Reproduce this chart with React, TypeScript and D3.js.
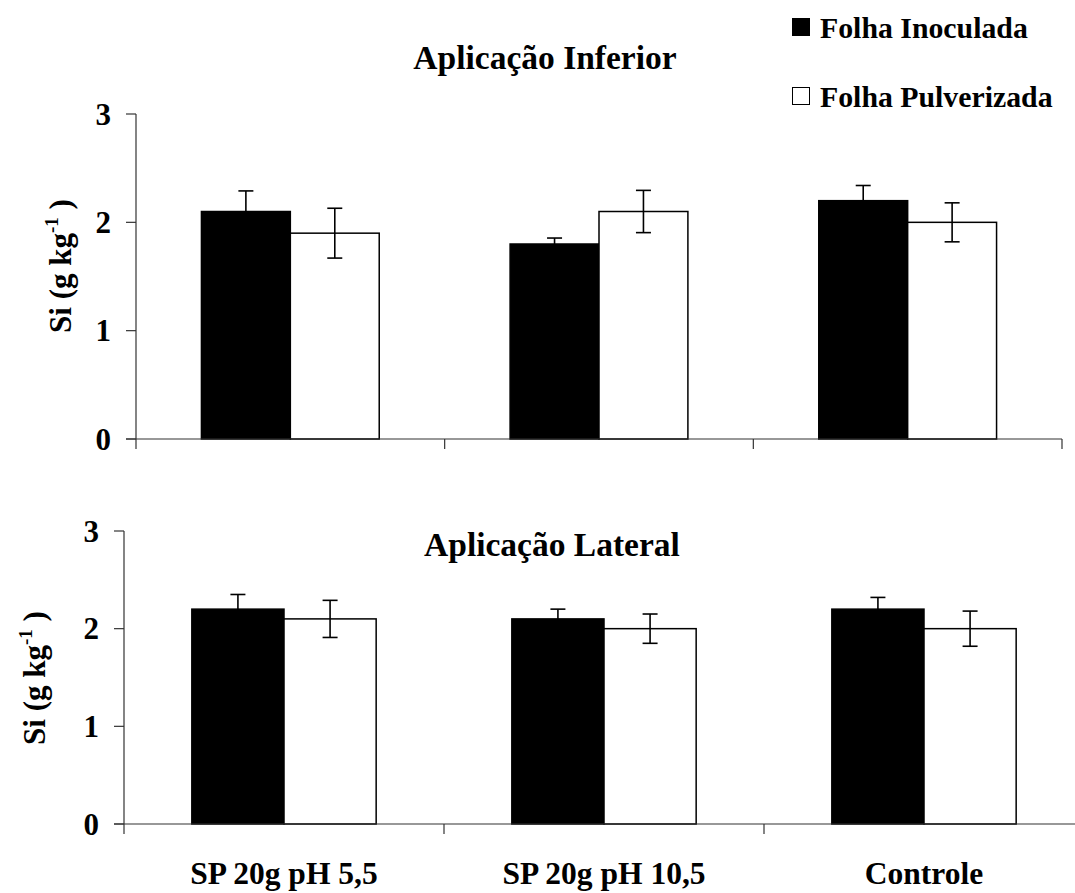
import React from "react";
import * as d3 from "d3";

const categories = ["SP 20g pH 5,5", "SP 20g pH 10,5", "Controle"];
const seriesNames = ["Folha Inoculada", "Folha Pulverizada"];
const yTicks = [0, 1, 2, 3];

// Aplicação Inferior
const inferiorInoculada = [2.1, 1.8, 2.2];
const inferiorInoculadaErr = [0.19, 0.055, 0.14];
const inferiorPulverizada = [1.9, 2.1, 2.0];
const inferiorPulverizadaErr = [0.23, 0.195, 0.18];

// Aplicação Lateral
const lateralInoculada = [2.2, 2.1, 2.2];
const lateralInoculadaErr = [0.15, 0.1, 0.12];
const lateralPulverizada = [2.1, 2.0, 2.0];
const lateralPulverizadaErr = [0.19, 0.15, 0.18];

const FONT = "'Liberation Serif', 'Times New Roman', Times, serif";

type PanelProps = {
  title: string;
  titleX: number;
  titleY: number;
  x0: number;
  x1: number;
  yTop: number;
  yBottom: number;
  axisEnd: number;
  labelX: number;
  labelY: number;
  inoc: number[];
  inocErr: number[];
  pulv: number[];
  pulvErr: number[];
  showCategories: boolean;
};

function Panel(p: PanelProps) {
  const x = d3.scaleBand<string>().domain(categories).range([p.x0, p.x1]);
  const y = d3.scaleLinear().domain([0, 3]).range([p.yBottom, p.yTop]);
  const bw = x.bandwidth() * 0.288;
  const series = [
    { vals: p.inoc, errs: p.inocErr, fill: "#000" },
    { vals: p.pulv, errs: p.pulvErr, fill: "#fff" },
  ];
  const cap = 7.5;
  return (
    <g>
      <text x={p.titleX} y={p.titleY} textAnchor="middle" fontFamily={FONT} fontWeight="bold" fontSize={33.5}>
        {p.title}
      </text>
      {/* y axis */}
      <line x1={p.x0} x2={p.x0} y1={y(3)} y2={p.yBottom + 10} stroke="#333" strokeWidth={1.2} />
      {yTicks.map((t) => (
        <g key={t}>
          <line x1={p.x0 - 10} x2={p.x0} y1={y(t)} y2={y(t)} stroke="#333" strokeWidth={1.2} />
          <text x={p.x0 - 25} y={y(t)} dy="0.34em" textAnchor="end" fontFamily={FONT} fontWeight="bold" fontSize={31}>
            {t}
          </text>
        </g>
      ))}
      <text
        transform={`translate(${p.labelX},${p.labelY}) rotate(-90)`}
        textAnchor="middle"
        fontFamily={FONT}
        fontWeight="bold"
        fontSize={31}
      >
        Si (g kg
        <tspan fontSize={19} dy={-13}>-1</tspan>
        <tspan dy={13}> )</tspan>
      </text>
      {/* bars */}
      {series.map((s, si) =>
        categories.map((c, i) => {
          const cx = x(c)! + x.bandwidth() / 2;
          const bx = si === 0 ? cx - bw : cx;
          const v = s.vals[i];
          return (
            <rect
              key={`${si}-${i}`}
              x={bx}
              y={y(v)}
              width={bw}
              height={y(0) - y(v)}
              fill={s.fill}
              stroke="#000"
              strokeWidth={1.5}
            />
          );
        })
      )}
      {/* error bars */}
      {series.map((s, si) =>
        categories.map((c, i) => {
          const cx = x(c)! + x.bandwidth() / 2;
          const ex = si === 0 ? cx - bw / 2 : cx + bw / 2;
          const hi = y(s.vals[i] + s.errs[i]);
          const lo = y(s.vals[i] - s.errs[i]);
          return (
            <g key={`e-${si}-${i}`} stroke="#000" strokeWidth={1.6}>
              <line x1={ex} x2={ex} y1={hi} y2={lo} />
              <line x1={ex - cap} x2={ex + cap} y1={hi} y2={hi} />
              <line x1={ex - cap} x2={ex + cap} y1={lo} y2={lo} />
            </g>
          );
        })
      )}
      {/* x axis */}
      <line x1={p.x0 - 10} x2={p.axisEnd} y1={y(0)} y2={y(0)} stroke="#333" strokeWidth={1.2} />
      {categories.map((c) => {
        const xe = x(c)! + x.bandwidth();
        return <line key={c} x1={xe} x2={xe} y1={y(0)} y2={y(0) + 10} stroke="#333" strokeWidth={1.2} />;
      })}
      {p.showCategories &&
        categories.map((c) => (
          <text
            key={c}
            x={x(c)! + x.bandwidth() / 2}
            y={884}
            textAnchor="middle"
            fontFamily={FONT}
            fontWeight="bold"
            fontSize={31.5}
          >
            {c}
          </text>
        ))}
    </g>
  );
}

export default function App() {
  return (
    <svg
      width={1075}
      height={893}
      style={{ position: "absolute", left: 0, top: 0, background: "#fff" }}
    >
      <rect width={1075} height={893} fill="#fff" />
      {/* legend */}
      <rect x={792.5} y={18.5} width={17} height={17} fill="#000" stroke="#000" />
      <text x={820} y={38} fontFamily={FONT} fontWeight="bold" fontSize={29.8}>
        {seriesNames[0]}
      </text>
      <rect x={792.5} y={87.5} width={17} height={17} fill="#fff" stroke="#000" />
      <text x={820} y={107} fontFamily={FONT} fontWeight="bold" fontSize={29.8}>
        {seriesNames[1]}
      </text>
      <Panel
        title="Aplicação Inferior"
        titleX={545}
        titleY={69}
        x0={136}
        x1={1062}
        yTop={114}
        yBottom={439}
        axisEnd={1062}
        labelX={71}
        labelY={266}
        inoc={inferiorInoculada}
        inocErr={inferiorInoculadaErr}
        pulv={inferiorPulverizada}
        pulvErr={inferiorPulverizadaErr}
        showCategories={false}
      />
      <Panel
        title="Aplicação Lateral"
        titleX={552}
        titleY={556}
        x0={124}
        x1={1084}
        yTop={531}
        yBottom={824}
        axisEnd={1084}
        labelX={45}
        labelY={678}
        inoc={lateralInoculada}
        inocErr={lateralInoculadaErr}
        pulv={lateralPulverizada}
        pulvErr={lateralPulverizadaErr}
        showCategories={true}
      />
    </svg>
  );
}
